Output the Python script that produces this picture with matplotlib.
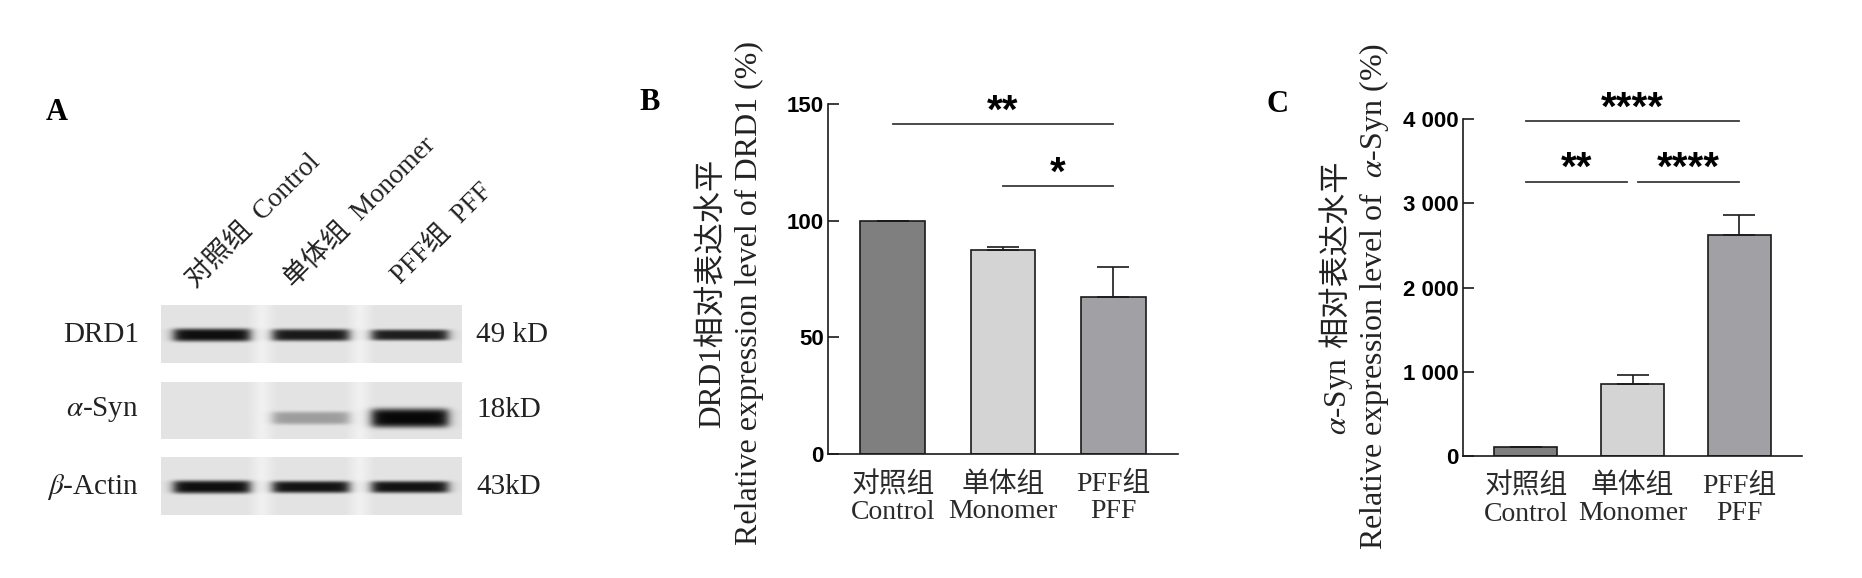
import numpy as np
import matplotlib
matplotlib.use("Agg")
from matplotlib import pyplot as plt

plt.rcParams['mathtext.fontset'] = 'stix'

# ---- data ----
groups_cn = ['对照组', '单体组', 'PFF组']
groups_en = ['Control', 'Monomer', 'PFF']
bar_colors = ['#7f7f7f', '#d4d4d4', '#a1a1a5']

drd1_mean = [100, 87.5, 67.2]
drd1_err = [0, 1.4, 13.0]
drd1_ticks = [0, 50, 100, 150]
drd1_ticklabels = ['0', '50', '100', '150']
# (from group, to group, stars, height)
drd1_sig = [(0, 2, '**', 141.5), (1, 2, '*', 114.7)]

syn_mean = [100, 850, 2630]
syn_err = [0, 115, 232]
syn_ticks = [0, 1000, 2000, 3000, 4000]
syn_ticklabels = ['0', '1 000', '2 000', '3 000', '4 000']
syn_sig = [(0, 2, '****', 3975), (0, 0.95, '**', 3260), (1.05, 2, '****', 3260)]

# western blot: rows, band weights per lane
blot_rows = ['DRD1', r'$\alpha$-Syn', r'$\beta$-Actin']
blot_kd = ['49 kD', '18kD', '43kD']
blot_lanes = ['对照组  Control', '单体组  Monomer', 'PFF组  PFF']
band_strength = [[0.97, 0.92, 0.90],
                 [0.00, 0.32, 1.00],
                 [0.97, 0.95, 0.95]]
band_thick = [[6.5, 6, 5.5],
              [6, 6.5, 9.5],
              [6.5, 6, 6]]

W, H = 1862, 578
fig = plt.figure(figsize=(W / 100, H / 100), dpi=100)

serif_cjk = ['Liberation Serif', 'Noto Sans CJK SC']
txt_col = '#222222'


def px_axes(x0, y0, x1, y1):
    return fig.add_axes([x0 / W, 1 - y1 / H, (x1 - x0) / W, (y1 - y0) / H])


def px_text(x, y, s, **kw):
    return fig.text(x / W, 1 - y / H, s, **kw)


# ---- panel A: blot ----
px_text(57, 112, 'A', family='Liberation Serif', weight='bold', size=22,
        ha='center', va='center')

ax_a = px_axes(161, 305, 462, 515)
ax_a.set_xlim(161, 462)
ax_a.set_ylim(515, 305)
ax_a.axis('off')

strip_y = [(305, 363), (382, 439), (457, 515)]
band_y = [335, 418, 487]
label_y = [335, 410, 487]
lane_x = [212, 311, 410]
lane_half = 38
xs = np.arange(161, 462) + 0.5
for r, (y0, y1) in enumerate(strip_y):
    ys = np.arange(y0, y1) + 0.5
    img = np.full((len(ys), len(xs)), 0.89)
    # lighter gaps between lanes
    for gx in [262, 360]:
        img += 0.05 * np.exp(-((xs - gx) / 9.0) ** 2)[None, :]
    for k, cx in enumerate(lane_x):
        s = band_strength[r][k]
        if s <= 0:
            continue
        prof_x = 1 / (1 + np.exp((np.abs(xs - cx) - lane_half) / 3.0))
        prof_y = np.exp(-((ys - band_y[r]) / band_thick[r][k]) ** 4)
        img -= 0.86 * s * prof_y[:, None] * prof_x[None, :]
    ax_a.imshow(img, cmap='gray', vmin=0, vmax=1, aspect='auto',
                extent=(161, 462, y1, y0), interpolation='bilinear')

for r, name in enumerate(blot_rows):
    px_text(139, label_y[r], name, family='Liberation Serif',
            size=21, ha='right', va='center', color=txt_col)
    px_text(476, label_y[r], blot_kd[r],
            family='Liberation Serif', size=21, ha='left', va='center',
            color=txt_col)

lane_anchor = [(200, 293), (298, 293), (405, 289)]
for (lx, ly), lab in zip(lane_anchor, blot_lanes):
    px_text(lx, ly, lab, family=serif_cjk, size=19.5, rotation=45,
            rotation_mode='anchor', ha='left', va='bottom', color=txt_col)


# ---- bar panels ----
def bar_panel(ax, means, errs, ticks, ticklabels, sig, ylim):
    x = np.arange(len(means))
    ax.bar(x, means, width=0.59, color=bar_colors, edgecolor='#1a1a1a',
           linewidth=1.2, zorder=2)
    ax.errorbar(x, means, yerr=[np.zeros(len(errs)), errs], fmt='none',
                ecolor='#1a1a1a', elinewidth=1.2, capsize=11.5, capthick=1.2,
                zorder=3)
    ax.set_xlim(-0.59, 2.59)
    ax.set_ylim(*ylim)
    ax.spines[['top', 'right']].set_visible(False)
    for sp in ['left', 'bottom']:
        ax.spines[sp].set_linewidth(1.2)
        ax.spines[sp].set_color('#1a1a1a')
    ax.set_yticks(ticks, ticklabels)
    ax.tick_params(axis='y', direction='in', length=8, width=1.2,
                   color='#1a1a1a', pad=3, labelsize=16)
    for lbl in ax.get_yticklabels():
        lbl.set_fontfamily('Liberation Sans')
        lbl.set_fontweight('bold')
    ax.set_xticks(x, [f'{c}\n{e}' for c, e in zip(groups_cn, groups_en)])
    ax.tick_params(axis='x', length=0, pad=13, labelsize=20,
                   labelcolor='#2a2a2a')
    for lbl in ax.get_xticklabels():
        lbl.set_fontfamily(serif_cjk)
        lbl.set_linespacing(1.1)
    for a, b, stars, h in sig:
        ax.plot([a, b], [h, h], color='#3a3a3a', lw=1.3, clip_on=False)
        ax.annotate(stars, xy=((a + b) / 2, h), xytext=(0, 1),
                    textcoords='offset points', ha='center', va='baseline',
                    family='Liberation Sans', weight='bold', size=29,
                    annotation_clip=False)


ax_b = px_axes(828, 104, 1178, 454)
bar_panel(ax_b, drd1_mean, drd1_err, drd1_ticks, drd1_ticklabels, drd1_sig,
          (0, 150))
px_text(650, 103, 'B', family='Liberation Serif', weight='bold', size=22,
        ha='center', va='center')
px_text(713, 293, 'DRD1相对表达水平', family=serif_cjk, size=22.5, rotation=90,
        rotation_mode='anchor', ha='center', va='center', color=txt_col)
px_text(749, 293, 'Relative expression level of DRD1 (%)', family=serif_cjk,
        size=23, rotation=90, rotation_mode='anchor', ha='center',
        va='center', color=txt_col)

ax_c = px_axes(1463, 119.3, 1802, 455.7)
bar_panel(ax_c, syn_mean, syn_err, syn_ticks, syn_ticklabels, syn_sig,
          (0, 4000))
px_text(1277, 104, 'C', family='Liberation Serif', weight='bold', size=22,
        ha='center', va='center')
px_text(1374, 296, r'Relative expression level of  $\alpha$-Syn (%)',
        family='Liberation Serif', size=23, rotation=90,
        rotation_mode='anchor', ha='center', va='center', color=txt_col)

# first label line of C: italic alpha piece + Chinese piece, joined end to end
renderer = fig.canvas.get_renderer()
base_x = 1346
gap = 9
t1 = px_text(base_x, 0, r'$\alpha$-Syn', family='Liberation Serif', size=22.5,
             rotation=90, rotation_mode='anchor', ha='left', va='baseline',
             color=txt_col)
t2 = px_text(base_x, 0, '相对表达水平', family=serif_cjk, size=22.5,
             rotation=90, rotation_mode='anchor', ha='left', va='baseline',
             color=txt_col)
len1 = t1.get_window_extent(renderer).height
len2 = t2.get_window_extent(renderer).height
start = 298 + (len1 + gap + len2) / 2
t1.set_position((base_x / W, 1 - start / H))
t2.set_position((base_x / W, 1 - (start - len1 - gap) / H))

fig.savefig('out.png', dpi=100, facecolor='white')
